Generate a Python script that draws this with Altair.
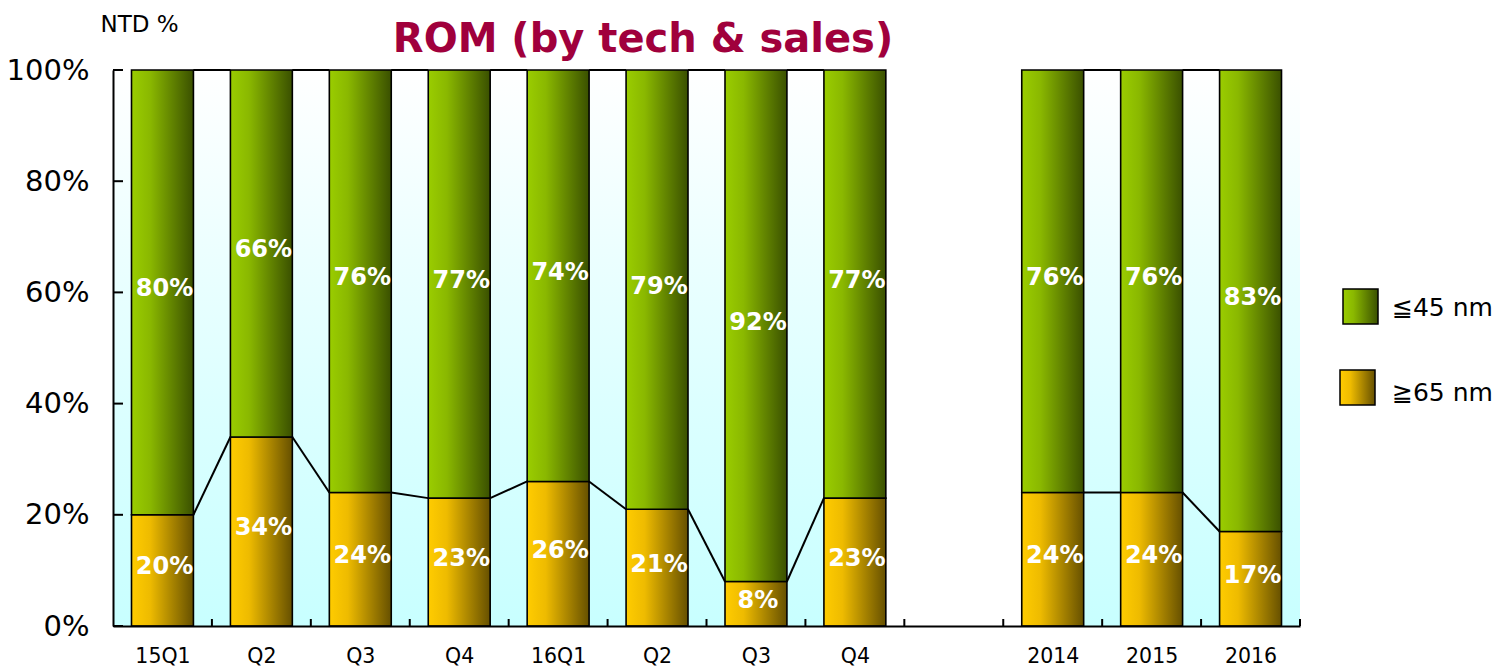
import altair as alt
import pandas as pd

# ---- data ----
categories = ["15Q1", "Q2", "Q3", "Q4", "16Q1", "Q2", "Q3", "Q4", "", "2014", "2015", "2016"]
le45 = [80, 66, 76, 77, 74, 79, 92, 77, None, 76, 76, 83]   # ≦45 nm share (%)
ge65 = [20, 34, 24, 23, 26, 21, 8, 23, None, 24, 24, 17]    # ≧65 nm share (%)
y_ticks = [0, 20, 40, 60, 80, 100]
series_names = ["≦45 nm", "≧65 nm"]

# ---- styling ----
HALF = 0.313  # half bar width in slot units
FONT = "DejaVu Sans"
green_grad = {"gradient": "linear", "x1": 0, "y1": 0, "x2": 1, "y2": 0,
              "stops": [{"offset": 0, "color": "#9acd00"}, {"offset": 0.3, "color": "#8ab800"},
                        {"offset": 1, "color": "#3a5000"}]}
gold_grad = {"gradient": "linear", "x1": 0, "y1": 0, "x2": 1, "y2": 0,
             "stops": [{"offset": 0, "color": "#ffcc00"}, {"offset": 0.3, "color": "#eebb00"},
                       {"offset": 1, "color": "#665000"}]}
bg_grad = {"gradient": "linear", "x1": 0, "y1": 0, "x2": 0, "y2": 1,
           "stops": [{"offset": 0, "color": "#ffffff"}, {"offset": 0.6, "color": "#dcffff"},
                     {"offset": 1, "color": "#c8ffff"}]}

n = len(categories)
present = [i for i in range(n) if le45[i] is not None]

rows = []
for i in present:
    rows.append({"idx": i, "series": "ge65", "y0": 0, "y1": ge65[i], "v": ge65[i]})
    rows.append({"idx": i, "series": "le45", "y0": ge65[i], "y1": ge65[i] + le45[i], "v": le45[i]})
df = pd.DataFrame(rows)

lines = []
for i in range(n - 1):
    if le45[i] is not None and le45[i + 1] is not None:
        lines.append({"xa": i, "xb": i + 1, "ya": ge65[i], "yb": ge65[i + 1]})
        lines.append({"xa": i, "xb": i + 1, "ya": ge65[i] + le45[i], "yb": ge65[i + 1] + le45[i + 1]})
df_lines = pd.DataFrame(lines)

gaps = [i for i in range(n) if le45[i] is None]
df_bg = pd.DataFrame([{"a": -0.5, "b": n - 0.5, "lo": 0, "hi": 100}])
df_gap = pd.DataFrame([{"a": g - 1, "b": g + 1, "lo": 0, "hi": 100} for g in gaps])
df_xt = pd.DataFrame({"b": [k + 0.5 for k in range(n)]})
df_yt = pd.DataFrame({"t": y_ticks})

label_arr = "[" + ",".join("'" + c + "'" for c in categories) + "]"

xscale = alt.Scale(domain=[-0.5, n - 0.5], nice=False, zero=False)
yscale = alt.Scale(domain=[0, 100], nice=False)
x_axis = alt.Axis(values=present, labelExpr=label_arr + "[datum.value]", title=None,
                  ticks=False, grid=False, domainColor="black", domainWidth=2,
                  labelFont=FONT, labelFontSize=20.5, labelColor="black", labelPadding=20,
                  labelFlush=False, labelOverlap=False, zindex=1)
y_axis = alt.Axis(values=y_ticks, labelExpr="datum.value + '%'", title="NTD %",
                  ticks=False, grid=False, domainColor="black", domainWidth=2,
                  labelFont=FONT, labelFontSize=29, labelColor="black", labelPadding=24,
                  titleAngle=0, titleAlign="left", titleBaseline="alphabetic",
                  titleX=-13, titleY=-39, titleFont=FONT, titleFontSize=23,
                  titleFontWeight="normal", titleColor="black", zindex=1)

X = lambda f: alt.X(f, type="quantitative", scale=xscale, axis=x_axis)
Y = lambda f: alt.Y(f, type="quantitative", scale=yscale, axis=y_axis)

bg = alt.Chart(df_bg).mark_rect(fill=bg_grad, strokeWidth=0).encode(
    x=X("a:Q"), x2="b:Q", y=Y("lo:Q"), y2="hi:Q")

gap = alt.Chart(df_gap).transform_calculate(
    xa=f"datum.a + {HALF}", xb=f"datum.b - {HALF}").mark_rect(fill="white", strokeWidth=0).encode(
    x=X("xa:Q"), x2="xb:Q", y=Y("lo:Q"), y2="hi:Q")

def bars(series, grad):
    return alt.Chart(df).transform_filter(f"datum.series == '{series}'").transform_calculate(
        xl=f"datum.idx - {HALF}", xr=f"datum.idx + {HALF}").mark_rect(
        fill=grad, stroke="black", strokeWidth=1.6).encode(
        x=X("xl:Q"), x2="xr:Q", y=Y("y0:Q"), y2="y1:Q")

gold_bars = bars("ge65", gold_grad)
green_bars = bars("le45", green_grad)

series_lines = alt.Chart(df_lines).transform_calculate(
    x1=f"datum.xa + {HALF}", x2=f"datum.xb - {HALF}").mark_rule(
    color="black", strokeWidth=2).encode(
    x=X("x1:Q"), x2="x2:Q", y=Y("ya:Q"), y2="yb:Q")

xticks = alt.Chart(df_xt).mark_rule(color="black", strokeWidth=2).encode(
    x=X("b:Q"), y=alt.value(556), y2=alt.value(549))

yticks = alt.Chart(df_yt).mark_rule(color="black", strokeWidth=2).encode(
    y=Y("t:Q"), x=alt.value(0), x2=alt.value(10))

labels = alt.Chart(df).transform_calculate(
    mid="(datum.y0 + datum.y1) / 2", txt="datum.v + '%'").mark_text(
    font=FONT, fontSize=24, fontWeight="bold", color="white", dy=-3, dx=2,
    baseline="middle", align="center").encode(
    x=X("idx:Q"), y=Y("mid:Q"), text="txt:N")

legend_layers = []
for name, grad, (lx, ly), ty in [(series_names[0], green_grad, (1230, 219), 238),
                                  (series_names[1], gold_grad, (1227, 300), 323)]:
    d = alt.Data(values=[{"label": name}])
    legend_layers.append(alt.Chart(d).mark_rect(fill=grad, stroke="black", strokeWidth=1.5).encode(
        x=alt.value(lx), x2=alt.value(lx + 35), y=alt.value(ly), y2=alt.value(ly + 35)))
    legend_layers.append(alt.Chart(d).mark_text(
        font=FONT, fontSize=25, color="black", align="left", baseline="middle").encode(
        x=alt.value(1279), y=alt.value(ty), text="label:N"))

title = alt.Chart(alt.Data(values=[{"t": "ROM (by tech & sales)"}])).mark_text(
    font=FONT, fontSize=40, fontWeight="bold", color="#a0003c", align="center",
    baseline="alphabetic").encode(x=alt.value(530), y=alt.value(-18), text="t:N")

chart = alt.layer(bg, gap, gold_bars, green_bars, series_lines, xticks, yticks, labels,
                  *legend_layers, title).properties(
    width=1187, height=556,
    autosize=alt.AutoSizeParams(type="none"),
    padding={"left": 105, "top": 62, "right": 197, "bottom": 40},
).configure_view(stroke=None)

chart.save("out.html", embed_options={"renderer": "svg", "actions": False})
